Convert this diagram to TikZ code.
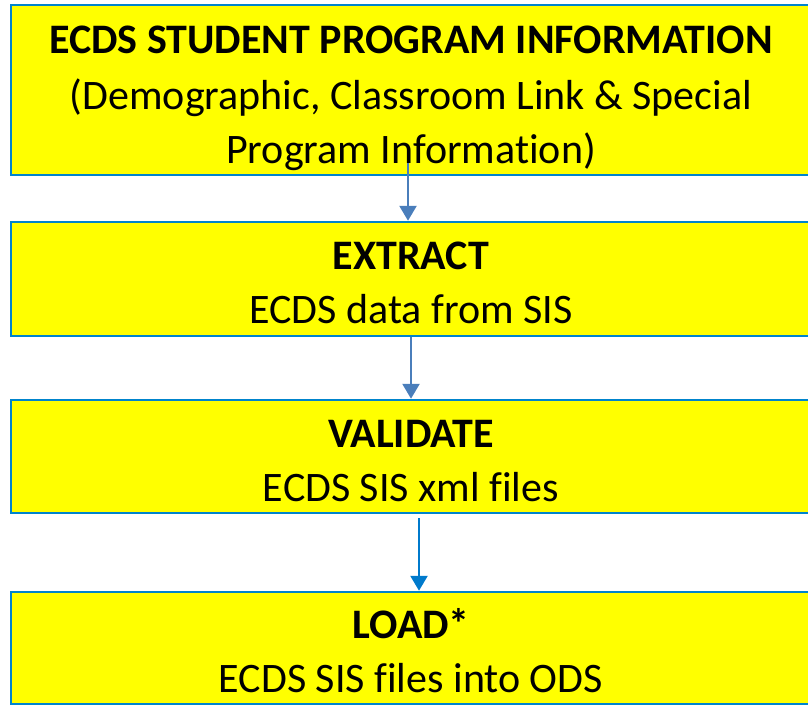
\documentclass[tikz,border=0pt]{standalone}
\usepackage{fontspec}
\setmainfont[Ligatures=NoCommon]{Carlito}
\usetikzlibrary{arrows.meta}
\definecolor{boxyellow}{RGB}{255,255,0}
\definecolor{boxblue}{RGB}{0,132,204}
\definecolor{arrowsteel}{RGB}{74,126,187}
\definecolor{arrowblue}{RGB}{0,122,204}
\begin{document}
\begin{tikzpicture}[x=1pt,y=-1pt,
  box/.style={draw=boxblue, line width=2.5pt, fill=boxyellow, inner sep=0pt},
  txt/.style={anchor=base, inner sep=0pt, font=\fontsize{42}{50}\selectfont},
  btxt/.style={txt, font=\fontsize{42}{50}\selectfont\bfseries},
  conn/.style={line width=2.5pt, -{Triangle[width=17pt,length=15pt]}}]
\useasboundingbox (0,0) rectangle (808,707);
\node[box, minimum width=800pt, minimum height=170pt] (b1) at (411,90) {};
\node[box, minimum width=800pt, minimum height=114pt] (b2) at (411,279) {};
\node[box, minimum width=800pt, minimum height=113pt] (b3) at (411,456.5) {};
\node[box, minimum width=800pt, minimum height=112pt] (b4) at (411,648) {};
\node[btxt] (t1a) at (411,53) {ECDS STUDENT PROGRAM INFORMATION};
\node[txt] (t1b) at (411,109) {(Demographic, Classroom Link \& Special};
\node[txt] (t1c) at (411,163) {Program Information)};
\node[btxt] (t2a) at (411,269) {EXTRACT};
\node[txt] (t2b) at (411,323) {ECDS data from SIS};
\node[btxt] (t3a) at (411,447) {VALIDATE};
\node[txt] (t3b) at (411,501) {ECDS SIS xml files};
\node[btxt] (t4a) at (411,638) {LOAD*};
\node[txt] (t4b) at (411,692) {ECDS SIS files into ODS};
\coordinate (a1s) at (408,163);
\draw[conn, arrowsteel] (a1s) -- (a1s |- b2.north);
\draw[conn, arrowsteel] (b2.south) -- (b3.north);
\coordinate (a3s) at (419,518);
\draw[conn, arrowblue] (a3s) -- (a3s |- b4.north);
\end{tikzpicture}
\end{document}
